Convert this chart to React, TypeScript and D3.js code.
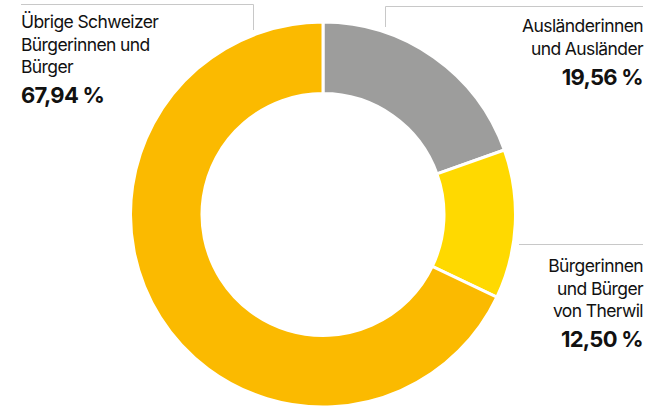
import { useEffect, useRef } from 'react';
import * as d3 from 'd3';

const labels = ['Ausländerinnen und Ausländer', 'Bürgerinnen und Bürger von Therwil', 'Übrige Schweizer Bürgerinnen und Bürger'];
const values = [19.56, 12.5, 67.94];
const colors = ['#9d9d9c', '#ffd900', '#fbba00'];
const labelLines = [
  ['Ausländerinnen', 'und Ausländer'],
  ['Bürgerinnen', 'und Bürger', 'von Therwil'],
  ['Übrige Schweizer', 'Bürgerinnen und', 'Bürger'],
];

export default function App() {
  const svgRef = useRef<SVGSVGElement>(null);

  useEffect(() => {
    const svg = d3.select(svgRef.current);
    svg.selectAll('*').remove();

    const width = 650;
    const height = 409;
    const cx = 323;
    const cy = 214.5;
    const outer = 192.5;
    const inner = 121;

    svg.attr('width', width).attr('height', height);

    const pie = d3.pie<number>().sort(null).value(d => d);
    const arc = d3.arc<d3.PieArcDatum<number>>().innerRadius(inner).outerRadius(outer);

    const g = svg.append('g').attr('transform', `translate(${cx},${cy})`);
    g.selectAll('path')
      .data(pie(values))
      .join('path')
      .attr('d', arc)
      .attr('fill', (d, i) => colors[i])
      .attr('stroke', '#fff')
      .attr('stroke-width', 3);

    // leader lines
    const lineColor = '#c8c8c8';
    svg.append('path')
      .attr('d', 'M21,4.5H253.5V30')
      .attr('fill', 'none')
      .attr('stroke', lineColor)
      .attr('stroke-width', 1);
    svg.append('path')
      .attr('d', 'M385.5,27V6.5H643')
      .attr('fill', 'none')
      .attr('stroke', lineColor)
      .attr('stroke-width', 1);
    svg.append('path')
      .attr('d', 'M519,244.5H643')
      .attr('fill', 'none')
      .attr('stroke', lineColor)
      .attr('stroke-width', 1);

    const fmt = (v: number) => v.toFixed(2).replace('.', ',') + ' %';
    const font = 'Inter, "Liberation Sans", sans-serif';

    const blocks = [
      { x: 643, y: 32, anchor: 'end' },
      { x: 643, y: 272, anchor: 'end' },
      { x: 21, y: 28, anchor: 'start' },
    ];

    blocks.forEach((b, i) => {
      const t = svg.append('g').attr('font-family', font).attr('fill', '#111');
      labelLines[i].forEach((line, j) => {
        t.append('text')
          .attr('x', b.x)
          .attr('y', b.y + j * 22.5)
          .attr('text-anchor', b.anchor)
          .style('font-size', '17.5px')
          .style('letter-spacing', '-0.6px')
          .text(line);
      });
      t.append('text')
        .attr('x', b.x)
        .attr('y', b.y + (labelLines[i].length - 1) * 22.5 + 30)
        .attr('text-anchor', b.anchor)
        .style('font-size', '22px')
        .style('font-weight', 'bold')
        .style('letter-spacing', '-0.7px')
        .text(fmt(values[i]));
    });
  }, []);

  return (
    <svg
      ref={svgRef}
      style={{ position: 'absolute', left: 0, top: 0, display: 'block' }}
      aria-label={labels.join(', ')}
    ></svg>
  );
}
